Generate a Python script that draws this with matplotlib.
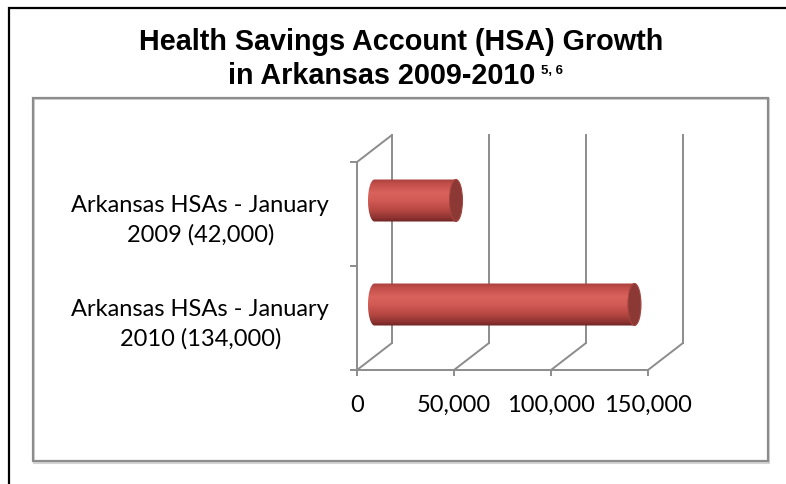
import numpy as np
import matplotlib
matplotlib.use("Agg")
import matplotlib.pyplot as plt
from matplotlib.patches import Rectangle, Ellipse, PathPatch, ConnectionPatch
from matplotlib.path import Path
from matplotlib.colors import LinearSegmentedColormap
import matplotlib.transforms as mtransforms

# ---- data ----
categories = ["Arkansas HSAs - January\n2010 (134,000)",
              "Arkansas HSAs - January\n2009 (42,000)"]
values = [134000, 42000]
x_ticks = [0, 50000, 100000, 150000]
x_tick_labels = ["0", "50,000", "100,000", "150,000"]
title_line1 = "Health Savings Account (HSA) Growth"
title_line2 = "in Arkansas 2009-2010"
title_sup = "5, 6"

W, H, DPI = 786, 484, 100
GRAY = "#8c8c8c"
LABEL_FONT = ["Lato", "DejaVu Sans"]
TITLE_FONT = ["Liberation Sans", "DejaVu Sans"]

fig = plt.figure(figsize=(W / DPI, H / DPI), dpi=DPI)
fig.patch.set_facecolor("white")


def box(x0, y0, x1, y1):
    return [x0 / W, 1 - y1 / H, (x1 - x0) / W, (y1 - y0) / H]


# outer black frame (runs off right / bottom)
fig.add_artist(Rectangle((9 / W, -0.2), 1.2, 1 - 8 / H + 0.2, transform=fig.transFigure,
                         fill=False, ec="black", lw=1.6))
# inner plot-area frame with faint shadow
fig.add_artist(Rectangle((34 / W, 1 - 463 / H), 735 / W, 364 / H, transform=fig.transFigure,
                         fill=False, ec="#d4d4d4", lw=1.5))
fig.add_artist(Rectangle((33 / W, 1 - 461 / H), 735 / W, 363 / H, transform=fig.transFigure,
                         fill=False, ec=GRAY, lw=1.6))

ax = fig.add_axes(box(357, 162, 648, 370))
ax.set_xlim(0, 150000)
ax.set_ylim(0, 2)
ax.patch.set_visible(False)

# depth offsets (pixels -> inches)
back = ax.transData + mtransforms.ScaledTranslation(35 / DPI, 27 / DPI, fig.dpi_scale_trans)
mid = ax.transData + mtransforms.ScaledTranslation(17.5 / DPI, 13.5 / DPI, fig.dpi_scale_trans)

lw = 1.4
# back wall gridlines
for xv in x_ticks:
    ax.plot([xv, xv], [0, 2], transform=back, color=GRAY, lw=lw, clip_on=False, zorder=1)
    cp = ConnectionPatch(xyA=(xv, 0), coordsA=ax.transData, xyB=(xv, 0), coordsB=back,
                         color=GRAY, lw=lw, zorder=1)
    cp.set_clip_on(False)
    ax.add_artist(cp)
cp = ConnectionPatch(xyA=(0, 2), coordsA=ax.transData, xyB=(0, 2), coordsB=back,
                     color=GRAY, lw=lw, zorder=1)
cp.set_clip_on(False)
ax.add_artist(cp)

# cylinders
body_cmap = LinearSegmentedColormap.from_list(
    "cyl", [(0.0, "#a8413d"), (0.12, "#c44f4a"), (0.32, "#da625c"), (0.5, "#d15b55"),
            (0.72, "#b84843"), (0.9, "#8e3431"), (1.0, "#6e2321")])
bar_h = 0.404
cap_a = 6.5 * 150000 / 291.0
grad = np.linspace(0, 1, 256).reshape(-1, 1)
positions = [0.5, 1.5]
for yc, val in zip(positions, values):
    t = np.linspace(np.pi / 2, 3 * np.pi / 2, 60)
    xs = list(cap_a * np.cos(t)) + [val, val]
    ys = list(yc + bar_h / 2 * np.sin(t)) + [yc - bar_h / 2, yc + bar_h / 2]
    verts = list(zip(xs, ys)) + [(xs[0], ys[0])]
    codes = [Path.MOVETO] + [Path.LINETO] * (len(verts) - 2) + [Path.CLOSEPOLY]
    clip = PathPatch(Path(verts, codes), transform=mid, fc="none", ec="none")
    ax.add_patch(clip)
    clip.set_clip_on(False)
    im = ax.imshow(grad, cmap=body_cmap, aspect="auto", origin="upper",
                   extent=(-cap_a, val, yc - bar_h / 2, yc + bar_h / 2),
                   transform=mid, zorder=3, interpolation="bilinear")
    im.set_clip_path(clip)
    cap = Ellipse((val, yc), 2 * cap_a, bar_h, transform=mid, fc="#8c3936",
                  ec="#a3443f", lw=0.8, zorder=4)
    cap.set_clip_on(False)
    ax.add_patch(cap)

ax.set_xlim(0, 150000)
ax.set_ylim(0, 2)

for s in ["top", "right"]:
    ax.spines[s].set_visible(False)
for s in ["left", "bottom"]:
    ax.spines[s].set_color(GRAY)
    ax.spines[s].set_linewidth(lw)
    ax.spines[s].set_zorder(2)

ax.set_xticks(x_ticks, x_tick_labels)
ax.tick_params(axis="x", length=4, width=lw, color=GRAY, pad=14, labelsize=17,
               labelcolor="black")
ax.set_yticks([0, 1, 2], ["", "", ""])
ax.set_yticks(positions, categories, minor=True, multialignment="center", linespacing=1.5)
ax.tick_params(axis="y", which="major", length=5, width=lw, color=GRAY)
ax.tick_params(axis="y", which="minor", length=0, pad=20, labelsize=17)
for lab in ax.get_xticklabels() + ax.get_yticklabels(minor=True):
    lab.set_fontfamily(LABEL_FONT)

# title
fig.text(401.5 / W, 1 - 42 / H, title_line1, ha="center", va="center", fontsize=20.7,
         fontweight="bold", family=TITLE_FONT)
t2 = fig.text(228 / W, 1 - 76 / H, title_line2, ha="left", va="center", fontsize=20.7,
              fontweight="bold", family=TITLE_FONT)
fig.canvas.draw()
ax.annotate(title_sup, xy=(1, 1), xycoords=t2, xytext=(4, -2.5), textcoords="offset points",
            ha="left", va="top", fontsize=9.5, fontweight="bold", family=TITLE_FONT,
            annotation_clip=False)

fig.savefig("out.png", dpi=DPI, facecolor="white")
